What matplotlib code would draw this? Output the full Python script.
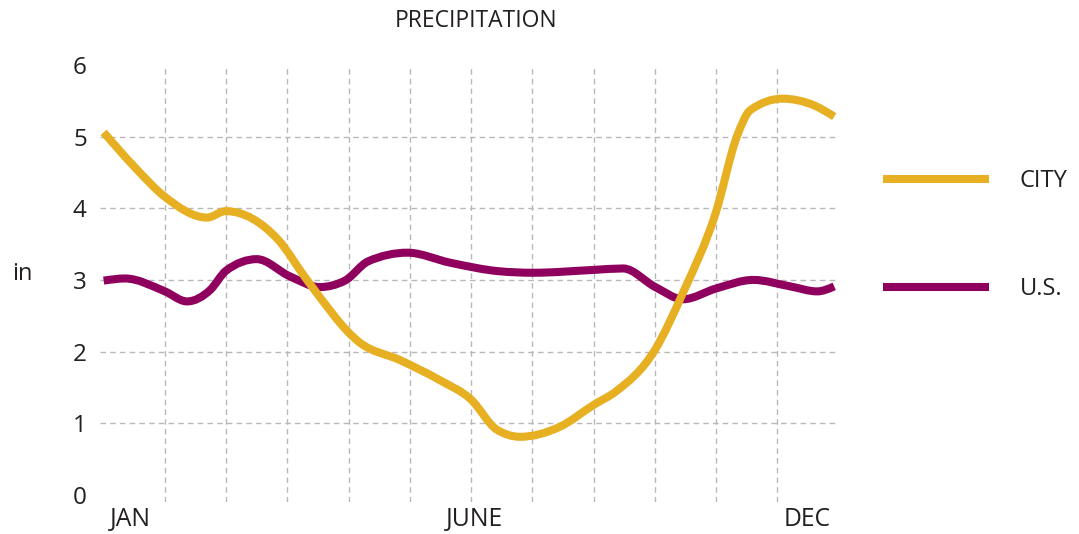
import numpy as np
import matplotlib.pyplot as plt
from matplotlib.path import Path
from matplotlib.patches import PathPatch
from matplotlib.lines import Line2D

plt.rcParams['font.family'] = ['Open Sans', 'DejaVu Sans']

# valores (x em meses, 0 = inicio de JAN, 12 = fim de DEC)
city_x = [0.0, 0.5, 1.0, 1.69, 1.99, 2.85, 3.32, 4.19, 4.84, 5.49, 6.0, 6.42, 6.80,
          7.45, 8.01, 8.36, 9.0, 9.46, 10.0, 10.34, 10.56, 11.08, 11.59, 11.93]
city_y = [5.06, 4.58, 4.16, 3.87, 3.96, 3.56, 3.0, 2.12, 1.88, 1.6, 1.33, 0.91, 0.81,
          0.95, 1.26, 1.44, 2.02, 2.82, 3.95, 5.0, 5.37, 5.53, 5.44, 5.28]

us_x = [0.0, 0.35, 1.0, 1.36, 1.74, 2.0, 2.50, 3.04, 3.53, 3.94, 4.32, 4.96, 5.66,
        6.47, 7.01, 8.01, 8.48, 9.01, 9.46, 10.0, 10.61, 11.21, 11.65, 11.93]
us_y = [2.99, 3.02, 2.84, 2.70, 2.86, 3.13, 3.29, 3.05, 2.90, 2.99, 3.26, 3.38, 3.24,
        3.12, 3.10, 3.14, 3.16, 2.90, 2.73, 2.88, 3.0, 2.91, 2.84, 2.91]

# posicoes dos rotulos dos meses
month_pos = [0.1, 6.05, 11.88]
month_labels = ['JAN', 'JUNE', 'DEC']
y_ticks = [0, 1, 2, 3, 4, 5, 6]

COR_CITY = '#E6B022'
COR_US = '#8F005E'
COR_TEXTO = '#231F20'


# curva suave tipo "monotone X" (como no d3), montada com beziers do matplotlib
def curva_monotona(xs, ys):
    x = np.asarray(xs, float)
    y = np.asarray(ys, float)
    n = len(x)
    h = np.diff(x)
    s = np.diff(y) / h
    m = np.zeros(n)
    for i in range(1, n - 1):
        p = (s[i - 1] * h[i] + s[i] * h[i - 1]) / (h[i - 1] + h[i])
        m[i] = (np.sign(s[i - 1]) + np.sign(s[i])) * min(abs(s[i - 1]), abs(s[i]), 0.5 * abs(p))
    m[0] = (3 * s[0] - m[1]) / 2
    m[-1] = (3 * s[-1] - m[-2]) / 2
    verts = [(x[0], y[0])]
    codes = [Path.MOVETO]
    for i in range(n - 1):
        d = h[i] / 3
        verts += [(x[i] + d, y[i] + m[i] * d), (x[i + 1] - d, y[i + 1] - m[i + 1] * d), (x[i + 1], y[i + 1])]
        codes += [Path.CURVE4] * 3
    return Path(verts, codes)


fig = plt.figure(figsize=(10.79, 5.34), dpi=100)
ax = fig.add_axes([100 / 1079, 1 - 502 / 534, 738.5 / 1079, 437 / 534])

for xs, ys, cor in [(us_x, us_y, COR_US), (city_x, city_y, COR_CITY)]:
    ax.add_patch(PathPatch(curva_monotona(xs, ys), fill=False, edgecolor=cor, lw=5.8,
                           capstyle='butt', joinstyle='round', zorder=3))

ax.set_xlim(-0.06, 12)
ax.set_ylim(-0.1, 6)

# grade tracejada
for gx in range(1, 12):
    ax.axvline(gx, color='#B8B8B8', lw=1, ls=(0, (4, 3)), zorder=1)
for gy in range(1, 6):
    ax.axhline(gy, color='#B8B8B8', lw=1, ls=(0, (4, 3)), zorder=1)

for sp in ax.spines.values():
    sp.set_visible(False)

ax.set_yticks(y_ticks)
ax.set_yticklabels([str(v) for v in y_ticks])
ax.set_xticks(month_pos)
ax.set_xticklabels(month_labels)
ax.tick_params(axis='y', length=0, pad=9.5, labelsize=17.5, labelcolor=COR_TEXTO)
ax.tick_params(axis='x', length=0, pad=3.5, labelsize=17.8, labelcolor=COR_TEXTO)
lbls = ax.get_xticklabels()
lbls[0].set_ha('left')
lbls[-1].set_ha('right')

fig.text(22 / 1079, 1 - 274 / 534, 'in', ha='center', va='center', fontsize=17, color=COR_TEXTO)
fig.text(476 / 1079, 1 - 21 / 534, 'PRECIPITATION', ha='center', va='center', fontsize=16.5, color=COR_TEXTO)

handles = [Line2D([], [], color=COR_CITY, lw=5.8, solid_capstyle='butt'),
           Line2D([], [], color=COR_US, lw=5.8, solid_capstyle='butt')]
fig.legend(handles, ['CITY', 'U.S.'], loc='center left', bbox_to_anchor=(883 / 1079, 1 - 235 / 534),
           frameon=False, fontsize=17, handlelength=4.5, handletextpad=1.3, labelspacing=3.55,
           borderpad=0, borderaxespad=0, labelcolor=COR_TEXTO)

fig.savefig('out.png', dpi=100)
